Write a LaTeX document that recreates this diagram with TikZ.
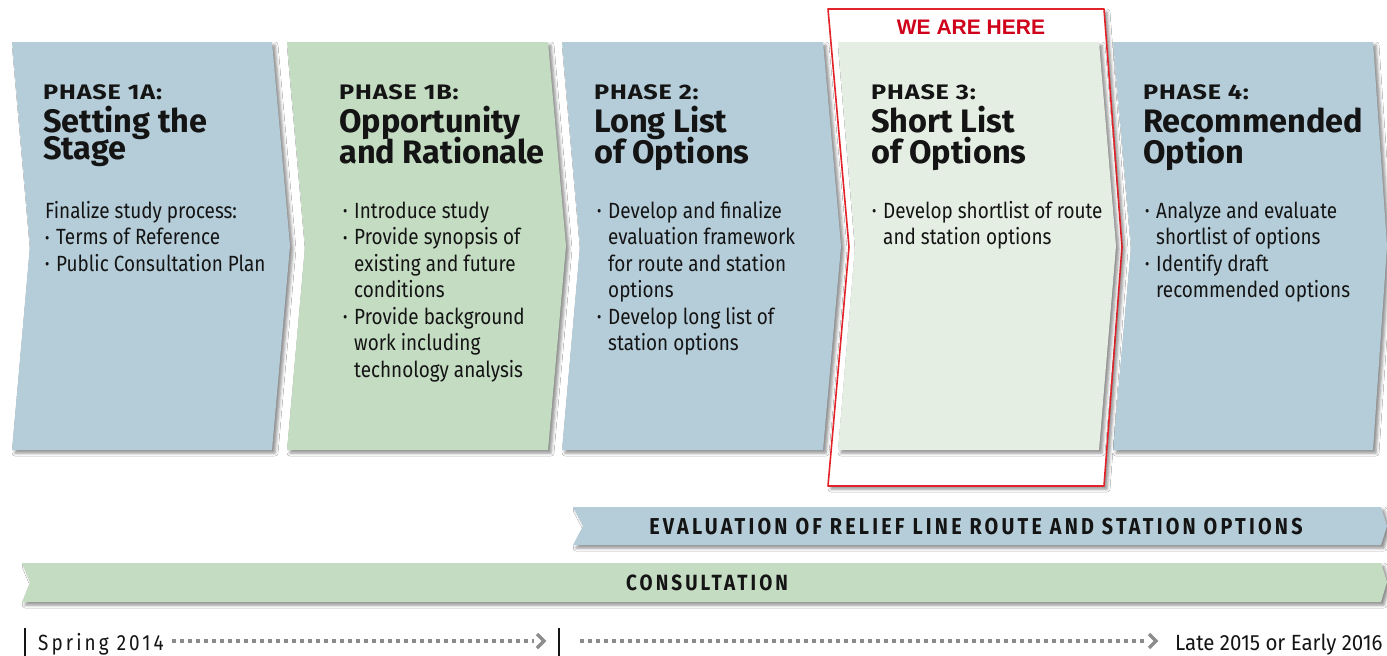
\documentclass[tikz,border=0pt]{standalone}
\usepackage{fontspec}
\setmainfont{Fira Sans}
\newfontfamily\bodyfont[FakeStretch=0.86]{Fira Sans}
\newfontfamily\headfont[FakeStretch=1.0]{Fira Sans}
\newfontfamily\phasefont[FakeStretch=1.2,LetterSpace=4]{Fira Sans}
\newfontfamily\timefont[FakeStretch=0.93]{Fira Sans}
\newfontfamily\barfont[FakeStretch=0.86,LetterSpace=14]{Fira Sans}
\newfontfamily\herefont{Liberation Sans}
\usetikzlibrary{shadows.blur}

\definecolor{phaseblue}{HTML}{B5CDD9}
\definecolor{phasegreen}{HTML}{C4DCC2}
\definecolor{phaselight}{HTML}{E5EEE3}
\definecolor{herered}{HTML}{E2232A}
\definecolor{heretext}{HTML}{D0021B}
\definecolor{inkblack}{HTML}{141414}
\definecolor{dotgray}{HTML}{8C8C8C}

\newcommand{\bul}{\makebox[11pt][l]{\raisebox{1.5pt}{\scalebox{0.7}{\textbullet}}}}
\newcommand{\ind}{\hspace*{11pt}}
\newcommand{\tightlines}{\lineskiplimit=-40pt\relax}

\begin{document}
\begin{tikzpicture}[line cap=round,line join=round,x=1pt,y=-1pt,
  panel/.style={draw=none,blur shadow={shadow xshift=3pt,shadow yshift=-3pt,shadow blur radius=3pt,shadow opacity=45}},
  phase/.style={anchor=base west,inner sep=0pt,font=\phasefont\bfseries\fontsize{21}{24}\selectfont,text=inkblack},
  title/.style={anchor=base west,inner sep=0pt,align=left,font=\headfont\bfseries\fontsize{32.5}{31}\selectfont\tightlines,text=inkblack},
  body/.style={anchor=base west,inner sep=0pt,align=left,font=\bodyfont\fontsize{22}{26.5}\selectfont\tightlines,text=inkblack},
  bartext/.style={inner sep=0pt,font=\barfont\bfseries\fontsize{22}{24}\selectfont,text=inkblack},
  timetext/.style={anchor=base west,inner sep=0pt,font=\timefont\fontsize{22}{24}\selectfont,text=inkblack},
  dots/.style={draw=dotgray,line width=4pt,line cap=butt,dash pattern=on 4pt off 4pt},
  tip/.style={draw=dotgray,line width=3.5pt,line cap=butt,line join=miter},
  tick/.style={draw=inkblack,line width=2pt,line cap=butt}]
\useasboundingbox[fill=white] (0,0) rectangle (1387,656);

% phase panels
\fill[phaseblue,panel] (12,42) -- (272,42) -- (290,246) -- (272,450) -- (12,450) -- (30,246) -- cycle;
\fill[phasegreen,panel] (287,42) -- (548,42) -- (566,246) -- (548,450) -- (287,450) -- (305,246) -- cycle;
\fill[phaseblue,panel] (562,42) -- (823,42) -- (841,246) -- (823,450) -- (562,450) -- (580,246) -- cycle;
\fill[phaseblue,panel] (1113,42) -- (1373,42) -- (1387,246) -- (1373,450) -- (1113,450) -- (1131,246) -- cycle;

% we are here
\filldraw[panel,fill=white,draw=herered,line width=1.6pt] (828,9) -- (1104,9) -- (1122,247) -- (1104,486) -- (828,486) -- (849,247) -- cycle;
\fill[phaselight,panel] (838,42) -- (1099,42) -- (1116,246) -- (1099,450) -- (838,450) -- (855,246) -- cycle;
\node[inner sep=0pt,font=\herefont\bfseries\fontsize{21}{24}\selectfont,text=heretext] (here) at (971,27) {WE ARE HERE};

% phase 1a
\node[phase] (ph1a) at (43,99) {PHASE 1A:};
\node[title,font=\headfont\bfseries\fontsize{32.5}{27}\selectfont\tightlines] (ti1a) at (43,159) {Setting the\\Stage};
\node[body] (bd1a) at (45,271) {Finalize study process:\\
\bul Terms of Reference\\
\bul Public Consultation Plan};

% phase 1b
\node[phase] (ph1b) at (339,99) {PHASE 1B:};
\node[title] (ti1b) at (339,163) {Opportunity\\and Rationale};
\node[body] (bd1b) at (343,377) {\bul Introduce study\\
\bul Provide synopsis of\\
\ind existing and future\\
\ind conditions\\
\bul Provide background\\
\ind work including\\
\ind technology analysis};

% phase 2
\node[phase] (ph2) at (594,99) {PHASE 2:};
\node[title] (ti2) at (594,163) {Long List\\of Options};
\node[body] (bd2) at (597,350.5) {\bul Develop and finalize\\
\ind evaluation framework\\
\ind for route and station\\
\ind options\\
\bul Develop long list of\\
\ind station options};

% phase 3
\node[phase] (ph3) at (871,99) {PHASE 3:};
\node[title] (ti3) at (871,163) {Short List\\of Options};
\node[body] (bd3) at (872,244.5) {\bul Develop shortlist of route\\
\ind and station options};

% phase 4
\node[phase] (ph4) at (1143,99) {PHASE 4:};
\node[title] (ti4) at (1143,163) {Recommended\\Option};
\node[body] (bd4) at (1145,297.5) {\bul Analyze and evaluate\\
\ind shortlist of options\\
\bul Identify draft\\
\ind recommended options};

% bars
\fill[phaseblue,panel] (573,507) -- (1381,507) -- (1387,526) -- (1381,545) -- (573,545) -- (583,526) -- cycle;
\node[bartext,font=\barfont\bfseries\fontsize{23}{24}\selectfont] (evaluation) at (976,527) {EVALUATION OF RELIEF LINE ROUTE AND STATION OPTIONS};
\fill[phasegreen,panel] (22,563) -- (1381,563) -- (1387,582) -- (1381,602) -- (22,602) -- (30,582) -- cycle;
\node[bartext] (consultation) at (707,583) {CONSULTATION};

% timeline
\draw[tick] (25,628) -- (25,656);
\draw[tick] (559,628) -- (559,656);
\node[timetext,font=\barfont\fontsize{22}{24}\selectfont] (spring) at (38,650) {Spring 2014};
\node[timetext] (late) at (1175,650) {Late 2015 or Early 2016};
\coordinate (dotA) at (172,641);
\coordinate (tipA) at (544,641);
\coordinate (dotB) at (580,641);
\coordinate (tipB) at (1156,641);
\draw[dots] (dotA) -- ([xshift=-10pt]tipA);
\draw[tip] (tipA) ++(-7,-7) -- ++(7,7) -- ++(-7,7);
\draw[dots] (dotB) -- ([xshift=-10pt]tipB);
\draw[tip] (tipB) ++(-7,-7) -- ++(7,7) -- ++(-7,7);
\end{tikzpicture}
\end{document}
